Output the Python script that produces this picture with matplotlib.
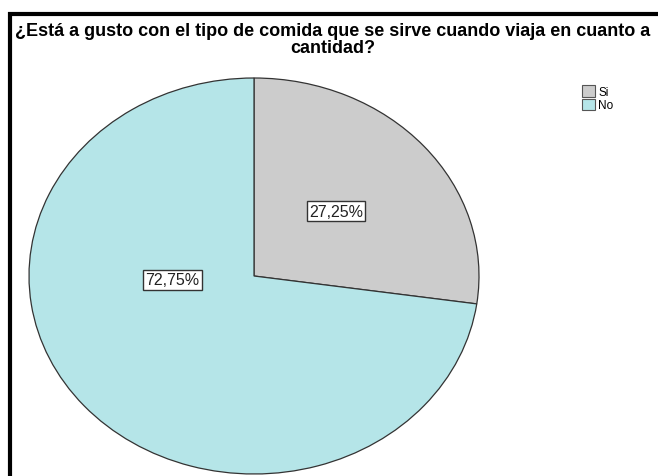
import matplotlib.pyplot as plt
from matplotlib.patches import Patch
from matplotlib.lines import Line2D

# Respuestas de la encuesta
categorias = ["Si", "No"]
porcentajes = [27.25, 72.75]
colores = ["#cccccc", "#b5e5e8"]
etiquetas = ["27,25%", "72,75%"]

titulo = ("¿Está a gusto con el tipo de comida que se sirve cuando viaja en cuanto a\n"
          "cantidad?")

W, H = 658, 477
fig = plt.figure(figsize=(W / 100, H / 100), dpi=100)
plt.rcParams['font.family'] = ['Liberation Sans', 'DejaVu Sans']

# área del gráfico de torta (elíptico, en píxeles)
x0, x1, ytop, ybot = 29, 479, 79, 475
ax = fig.add_axes([x0 / W, 1 - ybot / H, (x1 - x0) / W, (ybot - ytop) / H])

wedges, _ = ax.pie(porcentajes, colors=colores, startangle=90, counterclock=False,
                   radius=1, wedgeprops=dict(edgecolor="#333333", linewidth=0.9))
ax.set_aspect('auto')
ax.set_xlim(-1, 1)
ax.set_ylim(-1, 1)
ax.axis('off')

# posiciones de las etiquetas dentro de cada sector
pos_etiquetas = [(0.364, 0.328), (-0.364, -0.02)]
for (px, py), txt in zip(pos_etiquetas, etiquetas):
    ax.text(px, py, txt, ha='center', va='center', fontsize=11.5, color='#222222',
            bbox=dict(boxstyle='square,pad=0.15', facecolor='white',
                      edgecolor='#333333', linewidth=1.0))

fig.text(0.506, 1 - 40 / H, titulo, ha='center', va='center', fontsize=13,
         fontweight='bold', linespacing=1.03)

# leyenda
handles = [Patch(facecolor=c, edgecolor='#555555', linewidth=0.8) for c in colores]
fig.legend(handles, categorias, loc='upper left', bbox_to_anchor=(574 / W, 1 - 78 / H),
           frameon=False, fontsize=8.5, handlelength=1.1, handleheight=1.1,
           handletextpad=0.25, labelspacing=0.05, borderpad=0.2)

# marco superior e izquierdo
fig.add_artist(Line2D([8 / W, 1], [1 - 14.5 / H] * 2, transform=fig.transFigure,
                      color='black', linewidth=3.0, solid_capstyle='butt'))
fig.add_artist(Line2D([9.5 / W] * 2, [0, 1 - 13 / H], transform=fig.transFigure,
                      color='black', linewidth=3.0, solid_capstyle='butt'))

fig.savefig("out.png", dpi=100)
